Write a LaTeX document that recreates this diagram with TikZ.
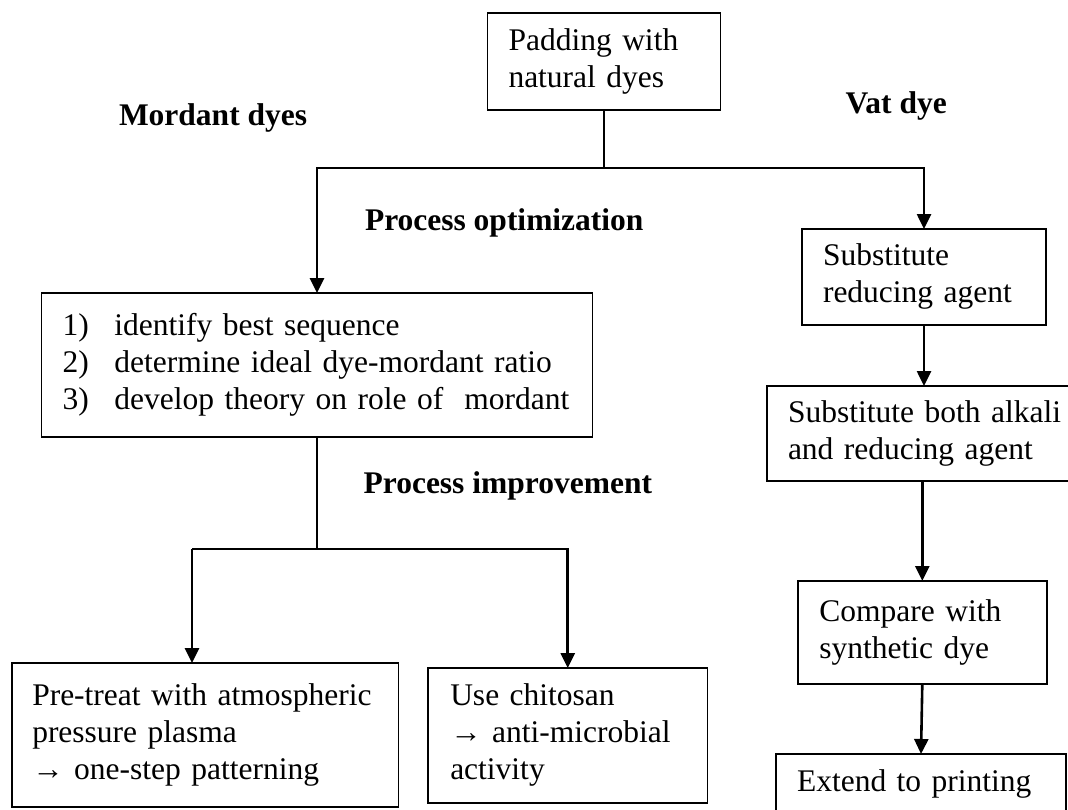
\documentclass[tikz,border=0pt]{standalone}
\usepackage{fontspec}
\setmainfont{Liberation Serif}
\usetikzlibrary{arrows.meta}
\newcommand{\lines}[1]{\begin{tabular}{@{}l@{}}#1\end{tabular}}
\begin{document}
\begin{tikzpicture}[x=1pt,y=-1pt,
  every node/.style={font=\fontsize{31.5}{37}\selectfont, outer sep=0pt},
  box/.style={draw, line width=1.8pt, anchor=north west, align=left, inner xsep=21pt, inner ysep=0pt},
  lbl/.style={anchor=base west, inner sep=0pt, font=\fontsize{31.5}{37}\selectfont\bfseries},
  conn/.style={line width=2.6pt},
  arr/.style={conn, -{Triangle[width=14pt,length=15pt]}}
]
\useasboundingbox (0,0) rectangle (1068,809);
\clip (0,0) rectangle (1068,809);
\fill[white] (0,0) rectangle (1068,809);

% boxes
\node[box, minimum width=233pt, minimum height=97pt, text width=191pt] (pad) at (487.5,13) {\lines{Padding with\\natural dyes}};
\node[box, minimum width=551pt, minimum height=144pt, text width=509pt] (opt) at (41.5,293)
  {\lines{\makebox[52pt][l]{1)}identify best sequence\\\makebox[52pt][l]{2)}determine ideal dye-mordant ratio\\\makebox[52pt][l]{3)}develop theory on role of\ \ mordant}};
\node[box, minimum width=244pt, minimum height=96pt, text width=202pt] (sub1) at (802,229) {\lines{Substitute\\reducing agent}};
\node[box, minimum width=323pt, minimum height=95pt, text width=281pt] (sub2) at (767,386) {\lines{Substitute both alkali\\and reducing agent}};
\node[box, minimum width=248.6pt, minimum height=103pt, text width=206pt] (cmp) at (798,581) {\lines{Compare with\\synthetic dye}};
\node[box, minimum width=290pt, minimum height=60pt, text width=248pt] (ext) at (776,754) {\lines{Extend to printing}};
\node[box, minimum width=386.5pt, minimum height=144pt, text width=346pt, inner xsep=19pt] (pre) at (12,663)
  {\lines{Pre-treat with atmospheric\\pressure plasma\\→ one-step patterning}};
\node[box, minimum width=279.5pt, minimum height=135pt, text width=235pt, inner xsep=22pt] (chi) at (428,668)
  {\lines{Use chitosan\\→ anti-microbial\\activity}};

% bold labels
\node[lbl] (lmord) at (119,125) {Mordant dyes};
\node[lbl] (lvat) at (845.6,113) {Vat dye};
\node[lbl] (lopt) at (365,230) {Process optimization};
\node[lbl] (limp) at (363.6,493) {Process improvement};

% junctions
\coordinate (j1) at (604,168);
\coordinate (j2) at (317,549);
\coordinate (p1) at (192,549);

% connectors
\draw[conn] (pad.south) -- (j1);
\draw[arr] (j1) -| (opt.north);
\draw[arr] (j1) -| (sub1.north);
\draw[conn] (opt.south) -- (j2);
\draw[conn] (j2) -- (p1);
\draw[arr] (p1) -- (p1 |- pre.north);
\draw[arr] (j2) -| (chi.north);
\draw[arr] (sub1.south) -- (sub1.south |- sub2.north);
\draw[arr] (cmp.north |- sub2.south) -- (cmp.north);
\draw[arr] (cmp.south) -- (ext.north);
\end{tikzpicture}
\end{document}
